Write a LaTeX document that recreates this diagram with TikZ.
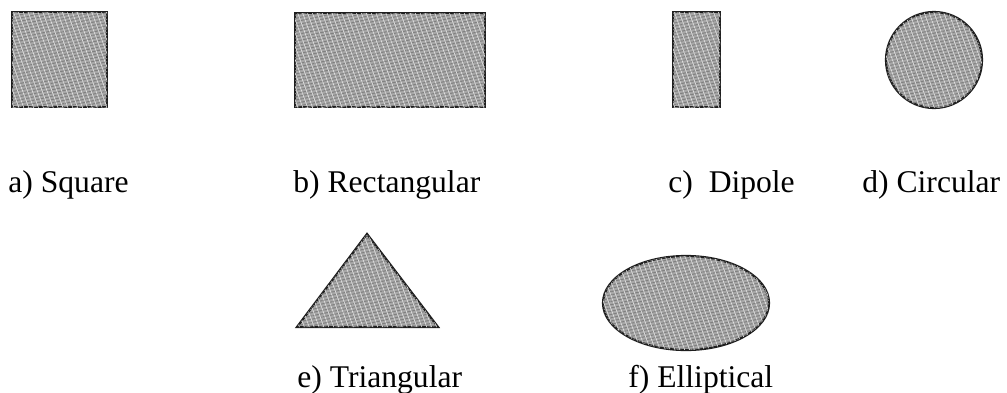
\documentclass[tikz,border=0pt]{standalone}
\usepackage{fontspec}
\setmainfont{Liberation Serif}
\usetikzlibrary{patterns.meta}
\definecolor{flaeche}{HTML}{A8A8A8}
\definecolor{rand}{HTML}{1E1E1E}
\tikzset{
  patch/.style={fill=flaeche,draw=rand,line width=1.1pt,
    postaction={pattern={Lines[angle=12,distance=1.6pt,line width=0.5pt]},pattern color=black!50},
    postaction={pattern={Lines[angle=-70,distance=2.3pt,line width=0.3pt]},pattern color=white!80!gray}},
  bez/.style={anchor=base west,inner sep=0pt,font=\fontsize{15.8}{19}\selectfont},
}

\begin{document}
\begin{tikzpicture}[x=0.5pt,y=-0.5pt]
  \useasboundingbox (0,0) rectangle (1007,392);
  % obere Reihe
  \draw[patch] (12,12) rectangle (107,107);
  \draw[patch] (295,13) rectangle (485,107);
  \draw[patch] (673,12) rectangle (720,107);
  \draw[patch] (934,60) circle[radius=48];
  \node[bez] (quad) at (8,192) {a) Square};
  \node[bez] (recht) at (293,192) {b) Rectangular};
  \node[bez] (dipol) at (668,192) {c)\ \ Dipole};
  \node[bez] (kreis) at (862,192) {d) Circular};
  % untere Reihe
  \draw[patch] (367,234)--(438,327)--(297,327)--cycle;
  \draw[patch] (686,303) ellipse[x radius=83,y radius=47];
  \node[bez] (drei) at (297,387) {e) Triangular};
  \node[bez] (ellip) at (628,387) {f) Elliptical};
\end{tikzpicture}
\end{document}
